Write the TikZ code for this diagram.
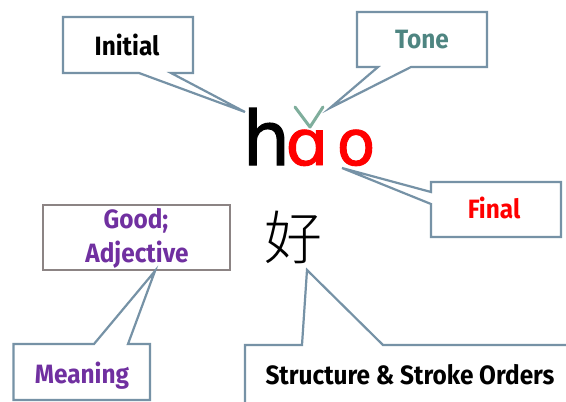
\documentclass[tikz,border=0pt]{standalone}
\usepackage{fontspec}
\newfontfamily\lblfont[FakeStretch=0.92]{Fira Sans}
\newfontfamily\letfont[FakeBold=1.5]{DejaVu Sans}
\newfontfamily\cjkfont[UprightFont={* Light}]{Noto Sans CJK SC}
\definecolor{boxc}{HTML}{7692A6}
\definecolor{goodc}{HTML}{8C8484}
\definecolor{tonec}{HTML}{4E8581}
\definecolor{markc}{HTML}{7FAE9C}
\definecolor{purp}{HTML}{7030A0}
\definecolor{redc}{HTML}{FF0000}
\tikzset{
  callout/.style={draw=boxc, line width=2.2pt, fill=white, line join=miter},
  lbl/.style={font=\lblfont\bfseries\fontsize{26.5}{30}\selectfont, anchor=base, inner sep=0pt},
  letter/.style={font=\letfont\fontsize{#1}{#1}\selectfont, anchor=base, inner sep=0pt},
}
\begin{document}
\begin{tikzpicture}[x=1pt,y=-1pt]
\clip (0,0) rectangle (566,402);
\fill[white] (0,0) rectangle (566,402);
% Initial callout
\coordinate (ti) at (245,112);
\draw[callout] (63,17) -- (193,17) -- (193,73) -- (171,73) -- (ti) -- (139,73) -- (63,73) -- cycle;
\node[lbl] (initial) at (127,55) {Initial};
% Tone callout
\coordinate (tt) at (330,108);
\draw[callout] (357,12) -- (487,12) -- (487,67) -- (411,67) -- (tt) -- (378,67) -- (357,67) -- cycle;
\node[lbl, text=tonec] (tone) at (422,48.5) {Tone};
% Final callout
\coordinate (tf) at (342,168);
\draw[callout] (431,182) -- (561,182) -- (561,237) -- (431,237) -- (431,204) -- (tf) -- (431,192) -- cycle;
\node[lbl, text=redc] (final) at (494,218.5) {Final};
% letters
\node[letter=75] (h) at (266.5,165) {h};
\node[xscale=1.08, letter=63, text=redc] (a) at (307,165) {ɑ};
\node[letter=63, text=redc] (o) at (356,165) {o};
\draw[markc, line width=3pt, line cap=round, line join=round] (295,107) -- (310,127) -- (323,107);
% Good box
\draw[draw=goodc, line width=2.2pt, fill=white] (43,205) rectangle (230,270);
\node[lbl, text=purp] (good1) at (136,228.5) {Good;};
\node[lbl, text=purp] (good2) at (137,262) {Adjective};
% Meaning callout
\coordinate (tm) at (155,271);
\draw[callout] (13.5,344) -- (94,344) -- (tm) -- (128,344) -- (150,344) -- (150,400) -- (13.5,400) -- cycle;
\node[lbl, text=purp] (meaning) at (82,383.5) {Meaning};
% Character
\node[font=\cjkfont\fontsize{58}{58}\selectfont, anchor=base, inner sep=0pt] (hao) at (293.5,259.5) {好};
% Structure callout
\coordinate (ts) at (307,270);
\draw[callout] (245,420) -- (245,345) -- (302,345) -- (ts) -- (383,345) -- (580,345) -- (580,420);
\node[lbl] (structure) at (410,384.5) {Structure \& Stroke Orders};
\end{tikzpicture}
\end{document}
